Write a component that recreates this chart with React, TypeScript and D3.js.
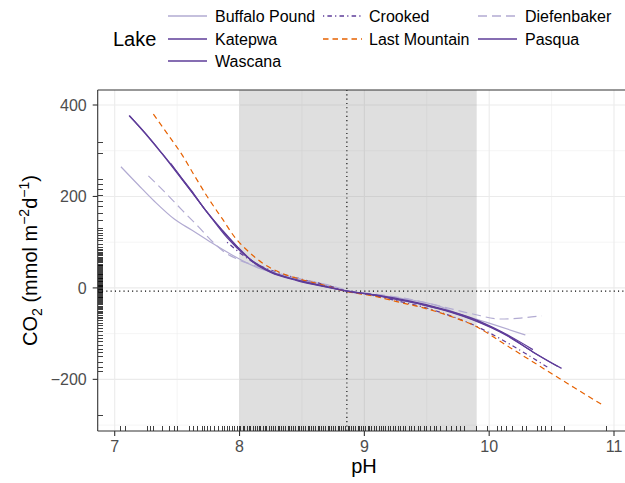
import React from "react";
import * as d3 from "d3";

// ---------------- data ----------------
const lakes = ["Buffalo Pound", "Crooked", "Diefenbaker", "Katepwa", "Last Mountain", "Pasqua", "Wascana"];

const buffaloPH = [7.05, 7.19, 7.32, 7.48, 7.62, 7.78, 7.94, 8.12, 8.3, 8.5, 8.7, 8.86, 9.1, 9.35, 9.6, 9.74, 10.0, 10.29];
const buffaloCO2 = [265, 225, 189, 150, 126, 98, 72, 47, 31, 17, 6, -6, -15, -25, -40, -55, -77, -103];

const crookedPH = [7.9, 8.1, 8.3, 8.5, 8.7, 8.86, 9.06, 9.26, 9.5, 9.7, 9.85, 10.0, 10.27, 10.47];
const crookedCO2 = [100, 58, 34, 19, 6, -7, -16, -28, -44, -62, -78, -98, -140, -174];

const diefPH = [7.27, 7.4, 7.54, 7.67, 7.78, 7.87, 7.99, 8.12, 8.3, 8.5, 8.7, 8.86, 9.1, 9.35, 9.61, 9.87, 10.09, 10.25, 10.42];
const diefCO2 = [245, 210, 170, 134, 102, 80, 62, 49, 33, 19, 7, -5, -14, -24, -40, -57, -68, -66, -61];

const katepwaPH = [7.115, 7.24, 7.38, 7.5, 7.62, 7.72, 7.86, 7.99, 8.12, 8.25, 8.46, 8.67, 8.86, 9.05, 9.26, 9.47, 9.69, 9.87, 10.14, 10.35, 10.58];
const katepwaCO2 = [377, 340, 294, 253, 211, 172, 127, 88, 55, 35, 17, 4, -7, -14, -25, -37, -52, -69, -103, -140, -176];

const lastPH = [7.31, 7.43, 7.54, 7.64, 7.75, 7.86, 7.97, 8.07, 8.18, 8.32, 8.46, 8.66, 8.86, 9.06, 9.26, 9.53, 9.77, 9.87, 10.14, 10.41, 10.68, 10.92];
const lastCO2 = [380, 334, 291, 245, 196, 152, 108, 80, 55, 34, 21, 7, -8, -17, -30, -48, -70, -81, -126, -172, -218, -258];

const pasquaPH = [7.45, 7.6, 7.75, 7.9, 8.05, 8.25, 8.5, 8.7, 8.86, 9.1, 9.35, 9.6, 9.85, 10.1, 10.35];
const pasquaCO2 = [272, 216, 162, 110, 70, 36, 15, 3, -7, -16, -28, -44, -65, -96, -135];

const wascanaPH = [7.12, 7.25, 7.38, 7.5, 7.62, 7.74, 7.86, 7.99, 8.12, 8.25, 8.46, 8.67, 8.86, 9.05, 9.26, 9.47, 9.69, 9.87, 10.14, 10.35, 10.55];
const wascanaCO2 = [376, 336, 293, 251, 209, 166, 126, 87, 54, 34, 16, 3, -7, -14, -25, -37, -53, -70, -104, -140, -172];

const rugPH = [
  7.05, 7.09, 7.26, 7.29, 7.31, 7.38, 7.44, 7.48, 7.5, 7.6, 7.63, 7.66, 7.7, 7.72, 7.74, 7.77, 7.8, 7.83, 7.86, 7.88,
  7.9, 7.92, 7.94, 7.96, 7.98, 8.0, 8.01, 8.03, 8.04, 8.06, 8.08, 8.09, 8.11, 8.13, 8.14, 8.16, 8.17, 8.19, 8.21, 8.22,
  8.24, 8.26, 8.27, 8.29, 8.31, 8.32, 8.34, 8.35, 8.37, 8.39, 8.4, 8.42, 8.43, 8.45, 8.47, 8.48, 8.5, 8.51, 8.53, 8.55,
  8.56, 8.58, 8.59, 8.61, 8.63, 8.64, 8.66, 8.67, 8.69, 8.71, 8.72, 8.74, 8.75, 8.77, 8.79, 8.8, 8.82, 8.83, 8.85, 8.87,
  8.88, 8.9, 8.91, 8.93, 8.95, 8.96, 8.98, 8.99, 9.01, 9.03, 9.04, 9.06, 9.08, 9.1, 9.12, 9.14, 9.15, 9.17, 9.19, 9.21,
  9.23, 9.25, 9.27, 9.29, 9.31, 9.33, 9.36, 9.38, 9.4, 9.43, 9.45, 9.48, 9.5, 9.53, 9.56, 9.58, 9.61, 9.66, 9.7, 9.74,
  9.77, 9.8, 9.9, 9.99, 10.07, 10.1, 10.14, 10.19, 10.27, 10.3, 10.39, 10.42, 10.45, 10.5, 10.6, 10.94,
];

const rugCO2 = [
  319, 295, 238, 226, 215, 202, 189, 177, 162, 148, 129, 125, 120, 114, 109, 104, 95, 88, 84, 81,
  78, 75, 72, 70, 67, 64, 62, 59, 57, 55, 52, 50, 48, 46, 44, 42, 40, 38, 36, 34,
  32, 30, 29, 27, 25, 23, 21, 20, 18, 16, 14, 13, 11, 9, 8, 6, 5, 3, 2, 0,
  -1, -3, -4, -6, -7, -9, -11, -12, -14, -16, -18, -20, -22, -24, -26, -28, -30, -32, -35, -37,
  -40, -42, -45, -48, -51, -54, -57, -60, -64, -68, -72, -77, -82, -88, -95, -104, -110, -118, -126, -135,
  -142, -150, -164, -173, -183, -279,
];

const xTicks = [7, 8, 9, 10, 11];
const xMinor = [7.5, 8.5, 9.5, 10.5];
const yTicks = [-200, 0, 200, 400];
const yMinor = [-300, -100, 100, 300];

const shadeRange = [8.0, 9.9];
const vRef = 8.86;
const hRef = -7;

// ---------------- styles ----------------
const DARK = "#5E3C99";
const LIGHT = "#B2ABD2";
const ORANGE = "#E66101";

const series = [
  { name: "Buffalo Pound", ph: buffaloPH, co2: buffaloCO2, color: LIGHT, dash: "none" },
  { name: "Crooked", ph: crookedPH, co2: crookedCO2, color: DARK, dash: "1.2,3.2,4.5,3.2" },
  { name: "Diefenbaker", ph: diefPH, co2: diefCO2, color: LIGHT, dash: "9,5" },
  { name: "Katepwa", ph: katepwaPH, co2: katepwaCO2, color: DARK, dash: "none" },
  { name: "Last Mountain", ph: lastPH, co2: lastCO2, color: ORANGE, dash: "5.5,4" },
  { name: "Pasqua", ph: pasquaPH, co2: pasquaCO2, color: DARK, dash: "none" },
  { name: "Wascana", ph: wascanaPH, co2: wascanaCO2, color: DARK, dash: "none" },
];

const FONT = "'Liberation Sans', Arial, Helvetica, sans-serif";

export default function App() {
  const W = 625;
  const H = 483;
  const pLeft = 97.7;
  const pRight = 640;
  const pTop = 90;
  const pBottom = 431;

  const x = d3.scaleLinear().domain([7, 11]).range([114.7, 614]);
  const y = d3.scaleLinear().domain([0, 400]).range([287.9, 105]);

  const line = d3
    .line<[number, number]>()
    .x((d) => x(d[0]))
    .y((d) => y(d[1]))
    .curve(d3.curveMonotoneX);

  const legendCols = [
    { key: 168, label: 215 },
    { key: 323, label: 369 },
    { key: 478, label: 525 },
  ];
  const legendRows = [16, 39, 61];
  const legendPos = [
    [0, 0],
    [1, 0],
    [2, 0],
    [0, 1],
    [1, 1],
    [2, 1],
    [0, 2],
  ];

  return (
    <svg width={W} height={H} style={{ position: "absolute", left: 0, top: 0, fontFamily: FONT }}>
      <style>{`body{margin:0}`}</style>
      <defs>
        <clipPath id="panel">
          <rect x={pLeft} y={pTop} width={pRight - pLeft} height={pBottom - pTop} />
        </clipPath>
      </defs>
      <rect x={0} y={0} width={W} height={H} fill="#fff" />

      <g clipPath="url(#panel)">
        {xMinor.map((v) => (
          <line key={"xm" + v} x1={x(v)} x2={x(v)} y1={pTop} y2={pBottom} stroke="#EBEBEB" strokeWidth={0.55} />
        ))}
        {yMinor.map((v) => (
          <line key={"ym" + v} x1={pLeft} x2={pRight} y1={y(v)} y2={y(v)} stroke="#EBEBEB" strokeWidth={0.55} />
        ))}
        {xTicks.map((v) => (
          <line key={"xg" + v} x1={x(v)} x2={x(v)} y1={pTop} y2={pBottom} stroke="#EBEBEB" strokeWidth={1.1} />
        ))}
        {yTicks.map((v) => (
          <line key={"yg" + v} x1={pLeft} x2={pRight} y1={y(v)} y2={y(v)} stroke="#EBEBEB" strokeWidth={1.1} />
        ))}

        <rect
          x={x(shadeRange[0])}
          y={pTop}
          width={x(shadeRange[1]) - x(shadeRange[0])}
          height={pBottom - pTop}
          fill="#7F7F7F"
          fillOpacity={0.25}
        />

        <g shapeRendering="crispEdges">
          {rugPH.map((v, i) => (
            <line key={"rx" + i} x1={x(v)} x2={x(v)} y1={pBottom - 5} y2={pBottom} stroke="#000" strokeOpacity={0.75} strokeWidth={1} />
          ))}
          {rugCO2.map((v, i) => (
            <line key={"ry" + i} x1={pLeft} x2={pLeft + 5} y1={y(v)} y2={y(v)} stroke="#000" strokeOpacity={0.75} strokeWidth={1} />
          ))}
        </g>

        <line x1={pLeft} x2={pRight} y1={y(hRef)} y2={y(hRef)} stroke="#000" strokeWidth={1.1} strokeDasharray="1.1,3.2" />
        <line x1={x(vRef)} x2={x(vRef)} y1={pTop} y2={pBottom} stroke="#000" strokeWidth={1.1} strokeDasharray="1.1,3.2" />

        {series.map((s) => (
          <path
            key={s.name}
            d={line(s.ph.map((p, i) => [p, s.co2[i]] as [number, number])) || ""}
            fill="none"
            stroke={s.color}
            strokeWidth={1.2}
            strokeDasharray={s.dash}
          />
        ))}
      </g>

      <line x1={pLeft} x2={pLeft} y1={pTop} y2={pBottom} stroke="#333" strokeWidth={1.1} />
      <line x1={pLeft} x2={pRight} y1={pTop} y2={pTop} stroke="#333" strokeWidth={1.1} />
      <line x1={pLeft} x2={pRight} y1={pBottom} y2={pBottom} stroke="#333" strokeWidth={1.1} />

      {xTicks.map((v) => (
        <g key={"xt" + v}>
          <line x1={x(v)} x2={x(v)} y1={pBottom} y2={pBottom + 5} stroke="#333" strokeWidth={1.1} />
          <text x={x(v)} y={452} textAnchor="middle" fontSize={16} fill="#4D4D4D">
            {v}
          </text>
        </g>
      ))}
      {yTicks.map((v) => (
        <g key={"yt" + v}>
          <line x1={pLeft - 5} x2={pLeft} y1={y(v)} y2={y(v)} stroke="#333" strokeWidth={1.1} />
          <text x={pLeft - 11} y={y(v)} dy="0.36em" textAnchor="end" fontSize={16} fill="#4D4D4D">
            {v < 0 ? "\u2212" + Math.abs(v) : v}
          </text>
        </g>
      ))}

      <text x={364} y={473} textAnchor="middle" fontSize={20} fill="#000">
        pH
      </text>
      <text transform={`translate(37, ${(pTop + pBottom) / 2}) rotate(-90)`} textAnchor="middle" fontSize={20} fill="#000">
        <tspan>CO</tspan>
        <tspan fontSize={14} dy={5}>2</tspan>
        <tspan dy={-5}> (mmol m</tspan>
        <tspan fontSize={14} dy={-8}>{"\u22122"}</tspan>
        <tspan dy={8}>d</tspan>
        <tspan fontSize={14} dy={-8}>{"\u22121"}</tspan>
        <tspan dy={8}>)</tspan>
      </text>

      <text x={113} y={39} dy="0.36em" fontSize={20} fill="#000">
        Lake
      </text>
      {series.map((s, i) => {
        const [c, r] = legendPos[i];
        const col = legendCols[c];
        const yy = legendRows[r];
        return (
          <g key={"lg" + s.name}>
            <line x1={col.key} x2={col.key + 39} y1={yy} y2={yy} stroke={s.color} strokeWidth={1.4} strokeDasharray={s.dash} />
            <text x={col.label} y={yy} dy="0.36em" fontSize={16} fill="#000">
              {s.name}
            </text>
          </g>
        );
      })}
    </svg>
  );
}
